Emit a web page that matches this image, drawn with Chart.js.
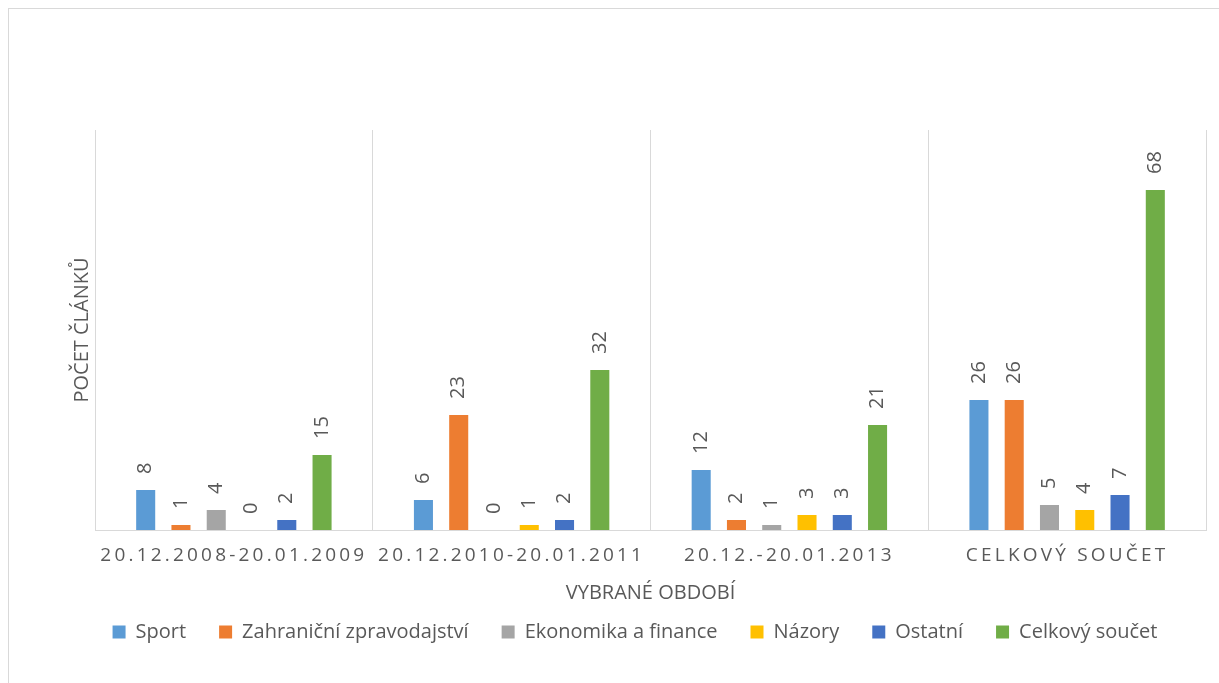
<!DOCTYPE html>
<html>
<head>
<meta charset="utf-8">
<script src="https://cdn.jsdelivr.net/npm/chart.js@4.4.0/dist/chart.umd.min.js"></script>
<style>
  html, body { margin: 0; padding: 0; background: #fff; overflow: hidden; }
  #frame { position: absolute; left: 8px; top: 8px; width: 1300px; height: 800px; border: 1px solid #d9d9d9; box-sizing: border-box; }
  #c { position: absolute; left: 0; top: 0; }
</style>
</head>
<body>
<div id="frame"></div>
<canvas id="c" width="1219" height="683"></canvas>
<script>
const categories = ["20.12.2008-20.01.2009", "20.12.2010-20.01.2011", "20.12.-20.01.2013", "CELKOVÝ SOUČET"];
const seriesNames = ["Sport", "Zahraniční zpravodajství", "Ekonomika a finance", "Názory", "Ostatní", "Celkový součet"];
const sport = [8, 6, 12, 26];
const zahranicni = [1, 23, 2, 26];
const ekonomika = [4, 0, 1, 5];
const nazory = [0, 1, 3, 4];
const ostatni = [2, 2, 3, 7];
const celkem = [15, 32, 21, 68];
const seriesColors = ["#5B9BD5", "#ED7D31", "#A5A5A5", "#FFC000", "#4472C4", "#70AD47"];
const yTitle = "POČET ČLÁNKŮ";
const xTitle = "VYBRANÉ OBDOBÍ";

const FONT = "'Open Sans', 'Noto Sans', sans-serif";
const TEXT = "#595959";

class SpacedCategory extends Chart.CategoryScale {
  drawLabels(area) {
    const ctx = this.ctx;
    ctx.save();
    ctx.letterSpacing = "3.2px";
    super.drawLabels(area);
    ctx.restore();
  }
}
SpacedCategory.id = "spacedCategory";
SpacedCategory.defaults = Chart.CategoryScale.defaults;
Chart.register(SpacedCategory);

const valueLabels = {
  id: "valueLabels",
  afterDatasetsDraw(chart) {
    const ctx = chart.ctx;
    ctx.save();
    ctx.font = "20px " + FONT;
    ctx.fillStyle = TEXT;
    ctx.textAlign = "left";
    ctx.textBaseline = "middle";
    chart.data.datasets.forEach((ds, di) => {
      const meta = chart.getDatasetMeta(di);
      meta.data.forEach((el, i) => {
        ctx.save();
        ctx.translate(el.x, el.y - 16);
        ctx.rotate(-Math.PI / 2);
        ctx.fillText(String(ds.data[i]), 0, 0);
        ctx.restore();
      });
    });
    ctx.restore();
  }
};

const allSeries = [sport, zahranicni, ekonomika, nazory, ostatni, celkem];

new Chart(document.getElementById("c"), {
  type: "bar",
  data: {
    labels: categories,
    datasets: allSeries.map((d, i) => ({
      label: seriesNames[i],
      data: d,
      backgroundColor: seriesColors[i],
      borderWidth: 0,
      categoryPercentage: 0.762,
      barPercentage: 0.54
    }))
  },
  options: {
    responsive: false,
    animation: false,
    devicePixelRatio: 1,
    layout: { padding: { left: 64, right: 13, top: 130, bottom: 31 } },
    plugins: {
      tooltip: { enabled: false },
      legend: {
        position: "bottom",
        labels: {
          boxWidth: 13,
          boxHeight: 13,
          padding: 33,
          color: TEXT,
          font: { family: FONT, size: 20 }
        }
      }
    },
    scales: {
      x: {
        type: "spacedCategory",
        offset: true,
        afterFit(scale) { scale.height = 59; },
        grid: { offset: true, display: true, color: "#d9d9d9", lineWidth: 1, drawTicks: false },
        border: { display: true, color: "#d9d9d9", width: 1 },
        ticks: { color: TEXT, font: { family: FONT, size: 19 }, padding: 14, maxRotation: 0, autoSkip: false },
        title: { display: true, text: xTitle, color: TEXT, font: { family: FONT, size: 20 }, padding: { top: 0, bottom: -16 } }
      },
      y: {
        min: 0,
        max: 80,
        afterFit(scale) { scale.width = 31; },
        grid: { display: false },
        border: { display: false },
        ticks: { display: false },
        title: { display: true, text: yTitle, color: TEXT, font: { family: FONT, size: 20 }, padding: { top: 6, bottom: 0 } }
      }
    }
  },
  plugins: [valueLabels]
});
</script>
</body>
</html>
